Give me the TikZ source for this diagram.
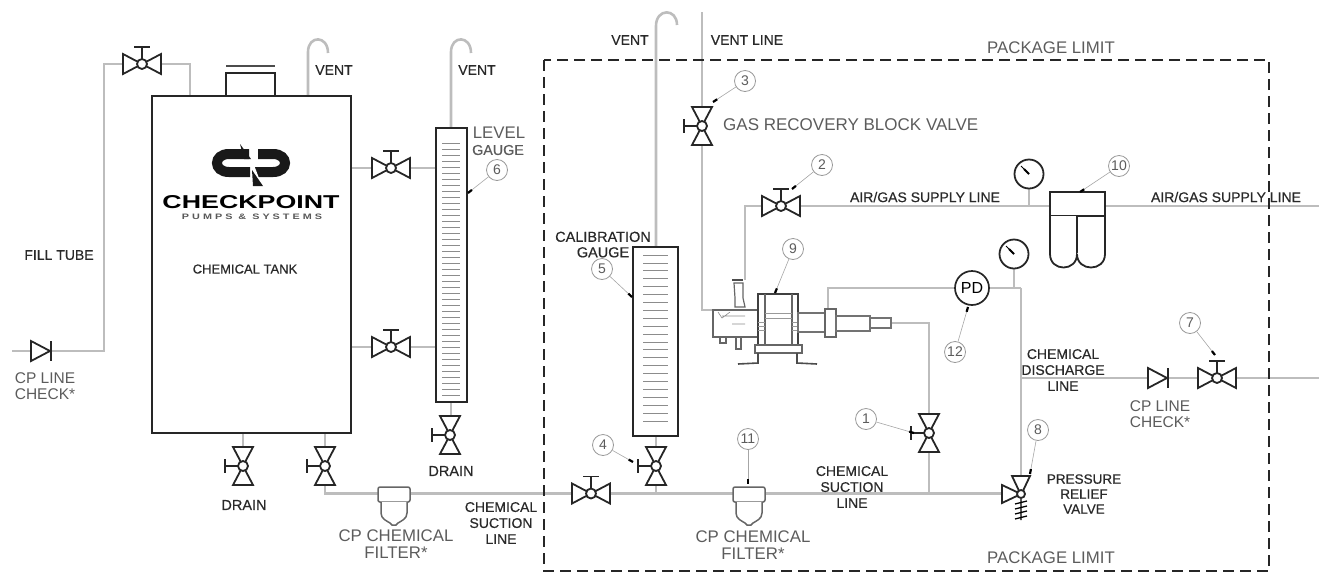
\documentclass[tikz,border=0pt]{standalone}
\usepackage{fontspec}
\setmainfont{Liberation Sans}
\newfontfamily\labfont[FakeBold=0.5]{Liberation Sans}
\usetikzlibrary{calc}
\definecolor{pipe}{gray}{0.74}
\definecolor{lab}{gray}{0.16}
\definecolor{soft}{gray}{0.36}
\tikzset{
 pipeline/.style={draw=pipe,line width=2.6pt},
 outline/.style={draw=black!85,line width=1.8pt,line join=miter},
 tagtext/.style={font=\labfont\fontsize{14}{16}\selectfont,text=lab,align=center,inner sep=0pt,text depth=0pt},
 softtext/.style={font=\fontsize{16.8}{16.5}\selectfont,text=soft,align=center,inner sep=0pt},
 numtag/.style={circle,draw=black!40,line width=0.8pt,minimum size=21pt,inner sep=0pt,font=\fontsize{14}{14}\selectfont,text=soft,fill=white},
 leaderline/.style={draw=black!35,line width=0.6pt},
 leadertip/.style={draw=black,line width=2.2pt},
 hvalve/.pic={
  \draw[outline,fill=white] (-19,-10)--(-19,10)--(19,-10)--(19,10)--cycle;
  \draw[outline,fill=white] (0,0) circle[radius=5pt];
  \draw[outline] (0,-5)--(0,-17) (-8,-17)--(8,-17);},
 vvalve/.pic={
  \draw[outline,fill=white] (-10,-19)--(10,-19)--(-10,19)--(10,19)--cycle;
  \draw[outline,fill=white] (0,0) circle[radius=5pt];
  \draw[outline] (-5,0)--(-18,0) (-18,-7)--(-18,7);},
 checkvalve/.pic={
  \draw[outline,fill=white] (-10,-10)--(-10,10)--(9,0)--cycle;
  \draw[outline] (10,-10)--(10,10);},
 filterpic/.pic={
  \draw[draw=black!60,line width=1.5pt,fill=white,rounded corners=2pt] (-16,-4)--(16,-4)--(16,11)--(-16,11)--cycle;
  \draw[draw=black!60,line width=1.5pt,fill=white] (-13,11)--(-13,22) .. controls (-13,28) and (-7,30) .. (-4,32)--(-2,34)--(2,34)--(4,32) .. controls (7,30) and (13,28) .. (13,22)--(13,11);},
 gaugepic/.pic={
  \draw[outline,fill=white] (0,0) circle[radius=14.5pt];
  \draw[draw=black,line width=0.8pt] (-8,-8)--(0,0);
  \draw[draw=black,line width=2pt] (-5,-5)--(0,0);},
}
\newcommand{\tagleader}[2]{\draw[leaderline] (#1)--(#2); \draw[leadertip] ($(#2)!5pt!(#1)$)--(#2);}
\begin{document}
\begin{tikzpicture}[x=1pt,y=-1pt]
\useasboundingbox (0,0) rectangle (1319,574);
% anchors
\coordinate (fa) at (12,351); \coordinate (fb) at (104,351); \coordinate (fc) at (104,64); \coordinate (fd) at (190,64); \coordinate (fe) at (190,96);
\coordinate (vFill) at (142,64); \coordinate (ckL) at (41,351);
\coordinate (vT1) at (391,168); \coordinate (vT2) at (391,347);
\coordinate (vD1) at (243,466); \coordinate (vD2) at (325,466); \coordinate (vD3) at (450,435);
\coordinate (vS) at (591,493.5); \coordinate (v4) at (656,466); \coordinate (v1) at (929,433);
\coordinate (v3) at (702,126); \coordinate (v2) at (781,206); \coordinate (v7) at (1217,378);
\coordinate (ckR) at (1158,378);
% pipes
\draw[pipeline] (fa)--(fb)--(fc)--(fd)--(fe);
\draw[pipeline] (308,96)--(308,52) .. controls (308,35) and (328,35) .. (328,53);
\draw[pipeline] (351,168)--(436,168);
\draw[pipeline] (351,347)--(436,347);
\draw[pipeline] (451,128)--(451,52) .. controls (451,35) and (471,35) .. (471,53);
\draw[pipeline] (451,402)--(451,450);
\draw[pipeline] (243,433)--(243,485);
\draw[pipeline] (325,433)--(325,493.5)--(1003,493.5);
\draw[pipeline] (656,247)--(656,26) .. controls (656,8) and (677,8) .. (677,25);
\draw[pipeline] (656,436)--(656,493.5);
\draw[pipeline] (702,12)--(702,310)--(714,310);
\draw[pipeline] (745,280)--(745,206)--(1319,206);
\draw[pipeline] (1029,174)--(1029,206);
\draw[pipeline] (890,323)--(929,323)--(929,493.5);
\draw[pipeline] (828,310)--(828,288)--(1021,288);
\draw[pipeline] (1014,254)--(1014,288);
\draw[pipeline] (1021,288)--(1021,478);
\draw[pipeline] (1021,378)--(1319,378);
% package limit
\draw[draw=black!85,line width=1.7pt,dash pattern=on 11pt off 6pt] (544,60) rectangle (1269,571);
% tank
\draw[outline,fill=white] (152,96) rectangle (351,433);
\draw[outline] (226,96)--(226,73)--(275,73)--(275,96);
\draw[draw=black!70,line width=1.4pt] (226,66)--(275,66);
% logo
\draw[draw=black!90,line width=10pt] (249,154)--(229,154) .. controls (213,154) and (213,172) .. (229,172)--(250,172);
\draw[draw=black!90,line width=10pt] (258,154)--(273,154) .. controls (289,154) and (289,172) .. (273,172)--(255,172);
\fill[black!90] (240,144)--(251,159)--(244,159)--cycle;
\fill[white] (250,165)--(254,165)--(262,186)--(258,186)--cycle;
\fill[black!90] (252,170)--(263,186)--(253,186)--cycle;
\node[inner sep=0pt] (brand) at (251,202) {\resizebox{177pt}{13pt}{\textbf{CHECKPOINT}}};
\node[inner sep=0pt,text=black!65] (brandsub) at (252,217) {\resizebox{140pt}{5.5pt}{\textbf{P U M P S \ \& \ S Y S T E M S}}};
% gauges
\draw[outline,fill=white] (436,128) rectangle (467,402);
\foreach \yy in {143,149,...,396}{\draw[draw=black!45,line width=0.6pt] (442,\yy)--(460,\yy);}
\draw[outline,fill=white] (633,247) rectangle (678,436);
\foreach \yy in {255,262.9,...,427}{\draw[draw=black!45,line width=0.7pt] (643,\yy)--(668,\yy);}
% pump
\draw[draw=black!60,line width=1.2pt,fill=white] (713,310) rectangle (758,337);
\draw[draw=black!60,line width=1.1pt] (720,337)--(720,343)--(726,343)--(726,337) (736,337)--(736,349)--(741,349)--(741,337);
\draw[draw=black!60,line width=1.2pt,fill=white] (735,307)--(735,298)--(734,283)--(743,283)--(743,298)--(745,307)--cycle;
\draw[draw=black!70,line width=2pt] (732,280)--(743,280);
\draw[draw=black!45,line width=0.6pt] (722,316)--(745,316) (732,324)--(745,324) (718,312)--(722,318)--(730,312);
\draw[draw=black!75,line width=1.5pt,fill=white] (758,294) rectangle (798,345);
\draw[draw=black!60,line width=1.1pt] (765,294)--(765,345) (792,294)--(792,345);
\draw[draw=black!40,line width=0.6pt] (765,313)--(792,313) (765,318)--(792,318) (758,322)--(765,322) (758,326)--(765,326) (758,330)--(765,330) (792,322)--(798,322) (792,326)--(798,326) (792,330)--(798,330);
\draw[draw=black!60,line width=1.2pt] (755,345)--(755,353)--(802,353)--(802,345)--cycle;
\draw[draw=black!70,line width=1.6pt] (758,353)--(758,363)--(738,364);
\draw[draw=black!70,line width=1.6pt] (797,353)--(797,363)--(817,364);
\draw[draw=black!55,line width=1.1pt,fill=white] (798,313) rectangle (825,332);
\draw[draw=black!60,line width=1.5pt,fill=white] (825,309) rectangle (836,337);
\draw[draw=black!55,line width=1.2pt,fill=white] (836,316) rectangle (870,331);
\draw[draw=black!55,line width=1.2pt,fill=white] (870,318) rectangle (891,328);
% filter10
\draw[outline,fill=white] (1050,192) rectangle (1105,216);
\draw[outline,fill=white] (1050,216)--(1050,254) .. controls (1050,272) and (1077,272) .. (1077,254)--(1077,216);
\draw[outline,fill=white] (1077,254) .. controls (1077,272) and (1105,272) .. (1105,254)--(1105,216);
% PD
\node[circle,draw=black!85,line width=1.7pt,minimum size=34pt,inner sep=0pt,fill=white,font=\fontsize{16}{16}\selectfont] (pd) at (972,288) {PD};
% equipment
\pic at (vFill) {hvalve}; \pic at (vT1) {hvalve}; \pic at (vT2) {hvalve}; \pic at (vS) {hvalve}; \pic at (v2) {hvalve}; \pic at (v7) {hvalve};
\pic at (vD1) {vvalve}; \pic at (vD2) {vvalve}; \pic at (vD3) {vvalve}; \pic at (v4) {vvalve}; \pic at (v1) {vvalve}; \pic at (v3) {vvalve};
\pic at (ckL) {checkvalve}; \pic at (ckR) {checkvalve};
\pic at (394,491) {filterpic}; \pic at (749,491) {filterpic};
\pic at (1029,174) {gaugepic}; \pic at (1014,254) {gaugepic};
% relief valve
\draw[outline,fill=white] (1012,476)--(1030,476)--(1021,495)--cycle;
\draw[outline,fill=white] (1002,485)--(1002,503)--(1021,494)--cycle;
\draw[outline,fill=white] (1021,494) circle[radius=4pt];
\draw[draw=black,line width=1.3pt] (1021,499)--(1021,520) (1015,504)--(1027,501) (1015,509)--(1027,506) (1015,514)--(1027,511) (1015,519)--(1027,516);
% numbered tags
\node[numtag] (n1) at (866,419) {1};
\node[numtag] (n2) at (822,165) {2};
\node[numtag] (n3) at (745,81) {3};
\node[numtag] (n4) at (603,445) {4};
\node[numtag] (n5) at (602,269) {5};
\node[numtag] (n6) at (497,170) {6};
\node[numtag] (n7) at (1190,323) {7};
\node[numtag] (n8) at (1038,430) {8};
\node[numtag] (n9) at (793,249) {9};
\node[numtag] (n10) at (1119,166) {10};
\node[numtag] (n11) at (748,439) {11};
\node[numtag] (n12) at (955,352) {12};
\coordinate (t1) at (914,433); \coordinate (t2) at (792,189); \coordinate (t3) at (713,102);
\coordinate (t4) at (633,462); \coordinate (t5) at (632,297); \coordinate (t6) at (468,193);
\coordinate (t7) at (1215,355); \coordinate (t8) at (1030,474); \coordinate (t9) at (775,293);
\coordinate (t10) at (1080,192); \coordinate (t11) at (748,484); \coordinate (t12) at (968,307);
\foreach \nn in {1,...,12}{\tagleader{n\nn}{t\nn}}
% labels
\node[tagtext] (l1) at (59,255) {FILL TUBE};
\node[tagtext,font=\labfont\fontsize{13}{16}\selectfont] (l2) at (245,269) {CHEMICAL TANK};
\node[tagtext] (l3) at (334,70) {VENT};
\node[tagtext] (l4) at (477,70) {VENT};
\node[tagtext] (l5) at (630,40) {VENT};
\node[tagtext] (l6) at (747,40) {VENT LINE};
\node[softtext,font=\fontsize{16.8}{17}\selectfont] (l7a) at (499,133) {LEVEL};
\node[softtext,font=\labfont\fontsize{14.3}{17}\selectfont] (l7b) at (498,150) {GAUGE};
\node[tagtext,font=\labfont\fontsize{14.5}{15.5}\selectfont] (l8) at (603,244.5) {CALIBRATION\\GAUGE};
\node[tagtext,font=\labfont\fontsize{14.5}{16}\selectfont] (l9) at (451,471) {DRAIN};
\node[tagtext,font=\labfont\fontsize{14.5}{16}\selectfont] (l10) at (244,505) {DRAIN};
\node[tagtext] (l11) at (501,523) {CHEMICAL\\SUCTION\\LINE};
\node[tagtext] (l12) at (852,487) {CHEMICAL\\SUCTION\\LINE};
\node[tagtext] (l13) at (1063,370) {CHEMICAL\\DISCHARGE\\LINE};
\node[tagtext] (l14) at (925,197) {AIR/GAS SUPPLY LINE};
\node[tagtext] (l15) at (1226,197) {AIR/GAS SUPPLY LINE};
\node[tagtext,font=\labfont\fontsize{13.5}{15}\selectfont] (l16) at (1084,494) {PRESSURE\\RELIEF\\VALVE};
\node[softtext] (l17) at (1051,48) {PACKAGE LIMIT};
\node[softtext] (l18) at (1051,558) {PACKAGE LIMIT};
\node[softtext,anchor=west,font=\fontsize{17}{18}\selectfont] (l19) at (723,125) {GAS RECOVERY BLOCK VALVE};
\node[softtext,font=\fontsize{15.5}{16}\selectfont] (l20) at (45,386) {CP LINE\\CHECK*};
\node[softtext,font=\fontsize{15.5}{16}\selectfont] (l21) at (1160,414) {CP LINE\\CHECK*};
\node[softtext] (l22) at (396,544) {CP CHEMICAL\\FILTER*};
\node[softtext] (l23) at (753,545) {CP CHEMICAL\\FILTER*};
\end{tikzpicture}
\end{document}
